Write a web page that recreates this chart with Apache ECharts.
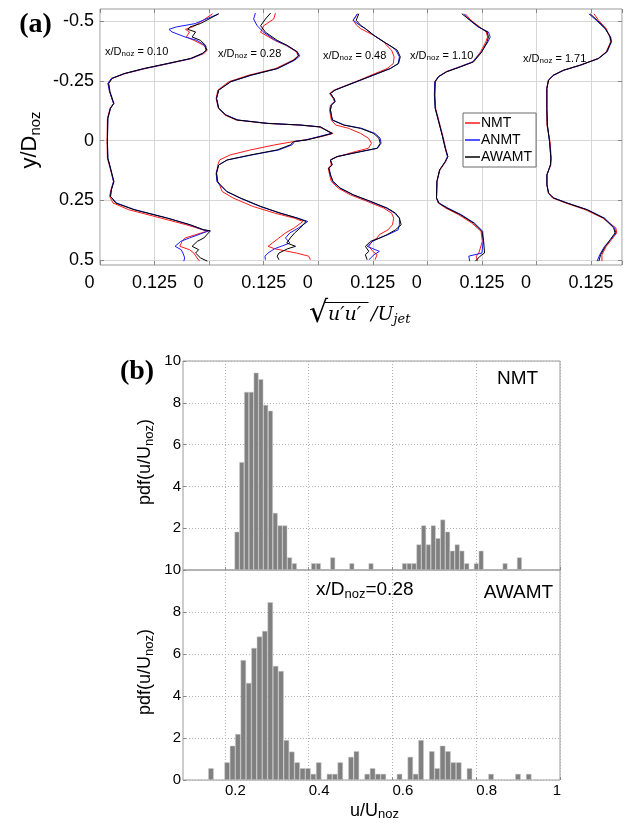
<!DOCTYPE html>
<html><head><meta charset="utf-8">
<script src="https://cdn.jsdelivr.net/npm/echarts@6/dist/echarts.min.js"></script>
<style>html,body{margin:0;padding:0;background:#fff}#c{width:625px;height:824px}</style>
</head><body><div id="c"></div>
<script>
// ---------- Panel (a): RMS profiles, one array per station/method ----------
const methods = ['NMT', 'ANMT', 'AWAMT'];
const stationLabels = ['0.10', '0.28', '0.48', '1.10', '1.71'];

const p1Y = [-0.530,-0.489,-0.475,-0.465,-0.454,-0.433,-0.419,-0.398,-0.378,-0.364,-0.343,-0.322,-0.301,-0.280,-0.260,-0.239,-0.204,-0.155,-0.135,-0.093,0.004,0.074,0.115,0.171,0.206,0.233,0.261,0.289,0.324,0.352,0.373,0.377,0.407,0.421,0.442,0.456,0.470,0.490,0.504];
const p1NMT = [0.258,0.225,0.212,0.196,0.205,0.198,0.215,0.238,0.246,0.238,0.210,0.158,0.104,0.058,0.028,0.019,0.022,0.031,0.023,0.017,0.016,0.017,0.023,0.031,0.025,0.022,0.030,0.066,0.140,0.198,0.236,0.248,0.195,0.188,0.183,0.205,0.215,0.222,0.228];
const p1ANMT = [0.272,0.218,0.175,0.158,0.165,0.195,0.222,0.240,0.243,0.236,0.209,0.156,0.102,0.056,0.026,0.018,0.022,0.031,0.024,0.018,0.017,0.018,0.024,0.031,0.026,0.024,0.038,0.080,0.155,0.206,0.236,0.250,0.205,0.185,0.172,0.186,0.190,0.194,0.192];
const p1AWAMT = [0.272,0.230,0.206,0.201,0.219,0.211,0.230,0.242,0.244,0.234,0.207,0.154,0.100,0.055,0.028,0.020,0.023,0.032,0.024,0.018,0.017,0.018,0.024,0.032,0.026,0.024,0.036,0.078,0.154,0.207,0.238,0.253,0.238,0.223,0.211,0.226,0.219,0.230,0.246];

const p2Y = [-0.533,-0.508,-0.480,-0.453,-0.419,-0.398,-0.371,-0.354,-0.336,-0.301,-0.273,-0.246,-0.211,-0.176,-0.135,-0.107,-0.086,-0.072,-0.065,-0.057,-0.030,-0.017,-0.003,0.004,0.018,0.039,0.060,0.081,0.102,0.136,0.171,0.185,0.213,0.240,0.275,0.303,0.324,0.338,0.365,0.386,0.407,0.428,0.442,0.452,0.470,0.483,0.498];
const p2NMT = [0.152,0.148,0.125,0.118,0.150,0.176,0.200,0.204,0.192,0.152,0.090,0.045,0.020,0.016,0.021,0.036,0.062,0.130,0.205,0.252,0.284,0.258,0.220,0.194,0.150,0.095,0.048,0.024,0.020,0.017,0.020,0.024,0.030,0.055,0.100,0.150,0.195,0.215,0.195,0.175,0.160,0.145,0.135,0.150,0.200,0.228,0.232];
const p2ANMT = [0.106,0.102,0.110,0.125,0.152,0.177,0.202,0.208,0.196,0.157,0.096,0.050,0.022,0.017,0.022,0.039,0.066,0.135,0.210,0.256,0.280,0.252,0.222,0.196,0.190,0.160,0.098,0.042,0.022,0.016,0.018,0.024,0.040,0.070,0.116,0.162,0.203,0.226,0.205,0.185,0.175,0.185,0.165,0.150,0.135,0.128,0.129];
const p2AWAMT = [0.141,0.129,0.118,0.129,0.156,0.179,0.202,0.205,0.194,0.156,0.095,0.049,0.022,0.017,0.022,0.038,0.064,0.133,0.209,0.255,0.282,0.255,0.225,0.194,0.186,0.156,0.095,0.041,0.022,0.017,0.019,0.026,0.041,0.072,0.118,0.163,0.202,0.222,0.209,0.196,0.186,0.178,0.198,0.180,0.160,0.156,0.160];

const p3Y = [-0.530,-0.503,-0.482,-0.468,-0.440,-0.413,-0.392,-0.378,-0.350,-0.322,-0.301,-0.280,-0.253,-0.225,-0.211,-0.197,-0.176,-0.163,-0.148,-0.128,-0.107,-0.086,-0.065,-0.051,-0.030,-0.010,0.011,0.032,0.046,0.067,0.081,0.102,0.115,0.143,0.171,0.199,0.227,0.254,0.282,0.303,0.324,0.352,0.373,0.393,0.407,0.421,0.442,0.463,0.477,0.498];
const p3NMT = [0.090,0.080,0.088,0.097,0.127,0.150,0.160,0.168,0.174,0.172,0.158,0.130,0.095,0.056,0.036,0.026,0.034,0.037,0.028,0.026,0.028,0.030,0.040,0.070,0.097,0.115,0.122,0.115,0.085,0.045,0.028,0.030,0.023,0.026,0.030,0.046,0.074,0.112,0.150,0.168,0.173,0.170,0.160,0.140,0.135,0.123,0.116,0.125,0.135,0.130];
const p3ANMT = [0.090,0.080,0.095,0.108,0.128,0.150,0.168,0.178,0.186,0.183,0.165,0.136,0.098,0.058,0.038,0.028,0.036,0.038,0.030,0.028,0.030,0.033,0.060,0.100,0.130,0.142,0.144,0.136,0.098,0.043,0.028,0.032,0.025,0.028,0.033,0.050,0.080,0.118,0.156,0.175,0.186,0.186,0.183,0.160,0.140,0.125,0.112,0.140,0.128,0.116];
const p3AWAMT = [0.093,0.087,0.097,0.108,0.127,0.150,0.169,0.181,0.188,0.184,0.165,0.135,0.097,0.058,0.039,0.028,0.036,0.039,0.030,0.028,0.030,0.032,0.058,0.097,0.127,0.139,0.142,0.135,0.097,0.043,0.028,0.032,0.024,0.028,0.034,0.051,0.081,0.120,0.158,0.177,0.186,0.190,0.177,0.158,0.142,0.120,0.108,0.116,0.108,0.112];

const p4Y = [-0.530,-0.503,-0.475,-0.454,-0.433,-0.413,-0.371,-0.329,-0.308,-0.288,-0.267,-0.246,-0.190,-0.135,-0.079,-0.023,0.032,0.067,0.088,0.123,0.171,0.240,0.261,0.282,0.310,0.345,0.379,0.421,0.470,0.483,0.504];
const p4NMT = [0.087,0.100,0.120,0.135,0.138,0.134,0.122,0.104,0.073,0.043,0.025,0.018,0.017,0.019,0.027,0.035,0.042,0.047,0.042,0.029,0.022,0.021,0.025,0.042,0.072,0.102,0.123,0.126,0.118,0.112,0.115];
const p4ANMT = [0.083,0.097,0.116,0.140,0.144,0.139,0.124,0.104,0.074,0.044,0.025,0.017,0.016,0.018,0.026,0.034,0.041,0.046,0.041,0.028,0.022,0.021,0.027,0.047,0.078,0.108,0.127,0.128,0.125,0.095,0.097];
const p4AWAMT = [0.079,0.098,0.118,0.137,0.140,0.137,0.125,0.106,0.076,0.045,0.026,0.018,0.017,0.018,0.026,0.034,0.041,0.047,0.041,0.028,0.022,0.021,0.026,0.045,0.076,0.106,0.125,0.129,0.131,0.121,0.110];

const p5Y = [-0.530,-0.503,-0.468,-0.433,-0.413,-0.371,-0.343,-0.315,-0.294,-0.273,-0.253,-0.218,-0.135,-0.065,0.004,0.074,0.102,0.143,0.185,0.220,0.240,0.261,0.289,0.324,0.365,0.386,0.414,0.442,0.477,0.504];
const p5NMT = [0.132,0.142,0.160,0.168,0.170,0.160,0.141,0.099,0.061,0.038,0.028,0.023,0.023,0.024,0.031,0.034,0.033,0.024,0.024,0.027,0.037,0.067,0.112,0.152,0.182,0.184,0.172,0.160,0.150,0.150];
const p5ANMT = [0.120,0.137,0.157,0.170,0.172,0.162,0.142,0.101,0.063,0.039,0.027,0.024,0.024,0.025,0.030,0.033,0.032,0.024,0.024,0.028,0.040,0.071,0.117,0.156,0.179,0.182,0.170,0.156,0.145,0.139];
const p5AWAMT = [0.123,0.139,0.158,0.169,0.171,0.161,0.142,0.100,0.062,0.039,0.028,0.024,0.024,0.025,0.030,0.033,0.032,0.024,0.024,0.028,0.039,0.070,0.116,0.154,0.177,0.180,0.169,0.158,0.147,0.143];

const profileY = [p1Y, p2Y, p3Y, p4Y, p5Y];
const profileX = {
  NMT:   [p1NMT, p2NMT, p3NMT, p4NMT, p5NMT],
  ANMT:  [p1ANMT, p2ANMT, p3ANMT, p4ANMT, p5ANMT],
  AWAMT: [p1AWAMT, p2AWAMT, p3AWAMT, p4AWAMT, p5AWAMT]
};
const stationSpan = 0.25;          // each station's sub-axis spans 0 .. 0.25
const yTicksA = [-0.5, -0.25, 0, 0.25, 0.5];
const xTickLabelsA = ['0', '0.125'];

// ---------- Panel (b): histograms of u/U_noz at x/D_noz = 0.28 ----------
const nmtBinX = [0.2288,0.2402,0.2517,0.2631,0.2745,0.2859,0.2974,0.3088,0.3202,0.3317,0.3431,0.3545,0.3659,0.4117,0.4231,0.4574,0.5031,0.5488,0.6288,0.6402,0.6517,0.6631,0.6745,0.6859,0.6974,0.7088,0.7202,0.7317,0.7431,0.7545,0.7659,0.7774,0.8002,0.8117,0.8688,0.9031];
const nmtPdf  = [1.83,5.16,8.52,8.52,9.44,9.13,7.90,7.62,2.73,2.13,2.13,0.60,0.32,0.32,0.32,0.60,0.32,0.32,0.32,0.32,0.32,1.22,2.13,1.22,2.13,1.52,2.41,1.83,0.92,1.22,0.92,0.32,0.32,0.92,0.32,0.60];
const awamtBinX = [0.1668,0.2054,0.2183,0.2311,0.2440,0.2569,0.2697,0.2826,0.2954,0.3083,0.3211,0.3340,0.3469,0.3597,0.3726,0.3854,0.3983,0.4111,0.4240,0.4497,0.4626,0.4754,0.5011,0.5140,0.5397,0.5526,0.5654,0.5783,0.6169,0.6426,0.6554,0.6683,0.6940,0.7069,0.7197,0.7326,0.7454,0.7583,0.7840,0.8354,0.8997,0.9254];
const awamtPdf  = [0.56,0.84,1.63,2.19,5.71,4.62,6.29,6.83,7.10,8.46,5.43,5.19,1.90,1.35,0.84,0.56,0.56,0.29,0.84,0.29,0.29,0.84,1.10,1.37,0.29,0.56,0.29,0.29,0.29,1.10,0.29,1.90,1.37,0.56,1.63,1.37,0.84,0.84,0.56,0.29,0.29,0.29];
const xTicksB = [0.2, 0.4, 0.6, 0.8, 1];
const yTicksB = [0, 2, 4, 6, 8, 10];

// ---------- build ----------
const FONT = 'Liberation Sans';
const colors = { NMT: '#ff1a1a', ANMT: '#1a1aff', AWAMT: '#000000' };

const series = [];
methods.forEach(m => {
  profileY.forEach((ys, k) => {
    series.push({
      type: 'line', name: m, xAxisIndex: 0, yAxisIndex: 0,
      data: ys.map((y, i) => [k * stationSpan + profileX[m][k][i], y]),
      showSymbol: false, symbol: 'none', silent: true, clip: false,
      color: colors[m], lineStyle: { color: colors[m], width: 1 },
      z: 3 + methods.indexOf(m)
    });
  });
});
series.push({
  type: 'bar', xAxisIndex: 2, yAxisIndex: 2, silent: true, barWidth: 4.8,
  data: nmtBinX.map((x, i) => [x, nmtPdf[i]]),
  itemStyle: { color: '#808080', borderColor: '#c8c8c8', borderWidth: 0.5 }
});
series.push({
  type: 'bar', xAxisIndex: 3, yAxisIndex: 3, silent: true, barWidth: 5.4,
  data: awamtBinX.map((x, i) => [x, awamtPdf[i]]),
  itemStyle: { color: '#808080', borderColor: '#c8c8c8', borderWidth: 0.5 }
});

const near = (a, b) => Math.abs(a - b) < 1e-6;
const fmtA_x = v => {
  const k = Math.round(v / 0.125);
  if (!near(v, k * 0.125)) return '';
  return k % 2 === 0 ? '{z|' + xTickLabelsA[0] + '}' : '{h|' + xTickLabelsA[1] + '}';
};
const fmtB_x = v => {
  const t = xTicksB.find(t => near(t, v));
  if (t === undefined) return '';
  return t === 1 ? '{e|' + t + '}' : '{o|' + t + '}';
};

const gridBorder = { show: true, borderColor: '#9a9a9a', borderWidth: 1, backgroundColor: 'transparent' };
const dotted = { show: true, lineStyle: { color: '#b0b0b0', type: [1, 2], width: 1 } };
const solidGrid = { show: true, lineStyle: { color: '#d6d6d6', width: 1 } };
const noLine = { show: false, onZero: false };
const tickA = { show: true, inside: true, length: 4, lineStyle: { color: '#888' } };

const option = {
  animation: false,
  backgroundColor: '#fff',
  grid: [
    Object.assign({ left: 100, top: 9, width: 522, height: 256 }, gridBorder),
    Object.assign({ left: 183, top: 361, width: 377, height: 209 }, gridBorder),
    Object.assign({ left: 183, top: 570, width: 377, height: 210 }, gridBorder)
  ],
  xAxis: [
    { gridIndex: 0, type: 'value', min: 0, max: 1.196, interval: 0.125,
      axisLine: noLine, axisTick: tickA, splitLine: solidGrid,
      axisLabel: { margin: 9, color: '#000', fontSize: 18, fontFamily: FONT, formatter: fmtA_x,
        rich: { z: { fontSize: 18, fontFamily: FONT, color: '#000', padding: [0, 21, 0, 0] },
                h: { fontSize: 18, fontFamily: FONT, color: '#000' } } } },
    { gridIndex: 0, type: 'value', position: 'top', min: 0, max: 1.196, interval: 0.125,
      axisLine: noLine, axisLabel: { show: false }, splitLine: { show: false }, axisTick: tickA },
    { gridIndex: 1, type: 'value', min: 0.1, max: 1,
      axisLine: noLine, axisLabel: { show: false },
      axisTick: { show: true, inside: true, length: 3, customValues: xTicksB, lineStyle: { color: '#888' } },
      splitLine: dotted },
    { gridIndex: 2, type: 'value', min: 0.1, max: 1,
      axisLine: noLine,
      axisTick: { show: true, inside: true, length: 3, customValues: xTicksB, lineStyle: { color: '#888' } },
      splitLine: dotted,
      axisLabel: { customValues: xTicksB, margin: 3, color: '#000', fontSize: 15, fontFamily: FONT, formatter: fmtB_x,
        rich: { o: { fontSize: 15, fontFamily: FONT, color: '#000', padding: [0, 0, 0, 21] },
                e: { fontSize: 15, fontFamily: FONT, color: '#000', padding: [0, 6, 0, 0] } } } }
  ],
  yAxis: [
    { gridIndex: 0, type: 'value', inverse: true, min: -0.55, max: 0.52,
      axisLine: noLine,
      axisTick: Object.assign({ customValues: yTicksA }, tickA),
      splitLine: solidGrid,
      axisLabel: { customValues: yTicksA, margin: 6, color: '#000', fontSize: 18, fontFamily: FONT,
        formatter: v => String(v) } },
    { gridIndex: 0, type: 'value', position: 'right', inverse: true, min: -0.55, max: 0.52,
      axisLine: noLine, axisLabel: { show: false }, splitLine: { show: false },
      axisTick: Object.assign({ customValues: yTicksA }, tickA) },
    { gridIndex: 1, type: 'value', min: 0, max: 10, interval: 2,
      axisLine: noLine,
      axisTick: { show: true, inside: true, length: 3, lineStyle: { color: '#888' } },
      splitLine: dotted,
      axisLabel: { margin: 2, color: '#000', fontSize: 15, fontFamily: FONT,
        formatter: v => (v === 0 ? '' : String(v)) } },
    { gridIndex: 2, type: 'value', min: 0, max: 10, interval: 2,
      axisLine: noLine,
      axisTick: { show: true, inside: true, length: 3, lineStyle: { color: '#888' } },
      splitLine: dotted,
      axisLabel: { margin: 2, color: '#000', fontSize: 15, fontFamily: FONT,
        formatter: v => (yTicksB.includes(v) ? String(v) : '') } }
  ],
  legend: {
    data: methods, orient: 'vertical', left: 463, top: 113,
    icon: 'rect', itemWidth: 15, itemHeight: 1.5, itemGap: 3,
    padding: [3, 4, 3, 2], borderColor: '#6a6a6a', borderWidth: 1, backgroundColor: '#fff',
    textStyle: { fontSize: 14, fontFamily: FONT, color: '#000', padding: [0, 0, 0, -4] },
    selectedMode: false, z: 10
  },
  series: series,
  graphic: []
};

function rt(x, y, text, rich, extra) {
  return {
    type: 'text', x: x, y: y, silent: true, z: 100,
    style: Object.assign({ text: text, rich: rich, fill: '#000', align: 'left', verticalAlign: 'middle' }, extra || {})
  };
}
const subRich = (fs, sfs, lh, slh, family, style) => ({
  m: { fontSize: fs, fontFamily: family || FONT, fontStyle: style || 'normal', lineHeight: lh, fill: '#000', color: '#000' },
  s: { fontSize: sfs, fontFamily: family || FONT, fontStyle: style || 'normal', lineHeight: slh, verticalAlign: 'bottom', fill: '#000', color: '#000' }
});

const G = option.graphic;
// panel letters
G.push(rt(35.5, 25, '(a)', null, { fontSize: 28, fontWeight: 'bold', fontFamily: 'Liberation Serif', align: 'center' }));
G.push(rt(137, 372, '(b)', null, { fontSize: 28, fontWeight: 'bold', fontFamily: 'Liberation Serif', align: 'center' }));
// y label of (a)
(function () {
  const e = rt(30, 140, '{m|y/D}{s|noz}', subRich(22, 15, 26, 10), { align: 'center' });
  e.rotation = Math.PI / 2; G.push(e);
})();
// station labels
const stationPos = [[105, 52], [218, 54], [323, 55.5], [410, 56], [523, 59]];
stationLabels.forEach((s, k) => {
  G.push(rt(stationPos[k][0], stationPos[k][1], '{m|x/D}{s|noz}{m| = ' + s + '}', subRich(11, 8, 12, 6)));
});
// x label of (a): sqrt(u'u')/U_jet
G.push(rt(309, 314, '\u221A', null, { fontSize: 30, fontFamily: 'DejaVu Serif' }));
G.push({ type: 'line', silent: true, z: 100, shape: { x1: 325, y1: 302.5, x2: 368.5, y2: 302.5 }, style: { stroke: '#000', lineWidth: 1 } });
G.push(rt(328, 315, "u\u2032u\u2032", null, { fontSize: 19, fontFamily: 'DejaVu Serif', fontStyle: 'italic' }));
G.push(rt(371, 315, '{m|/U}{s|jet}', subRich(19, 13, 22, 10, 'DejaVu Serif', 'italic')));
// panel (b) texts
G.push(rt(517.5, 379, 'NMT', null, { fontSize: 19, fontFamily: FONT, align: 'center' }));
G.push(rt(518.5, 592.5, 'AWAMT', null, { fontSize: 19, fontFamily: FONT, align: 'center' }));
G.push(rt(316, 590, '{m|x/D}{s|noz}{m|=0.28}', subRich(19, 13, 22, 10)));
G.push(rt(350, 811, '{m|u/U}{s|noz}', subRich(18, 13, 20, 9)));
[462, 672].forEach(cy => {
  const e = rt(145, cy, '{m|pdf(u/U}{s|noz}{m|)}', subRich(18, 13, 22, 10), { align: 'center' });
  e.rotation = Math.PI / 2; G.push(e);
});

const chart = echarts.init(document.getElementById('c'), null, { renderer: 'canvas' });
chart.setOption(option);
</script>
</body></html>
